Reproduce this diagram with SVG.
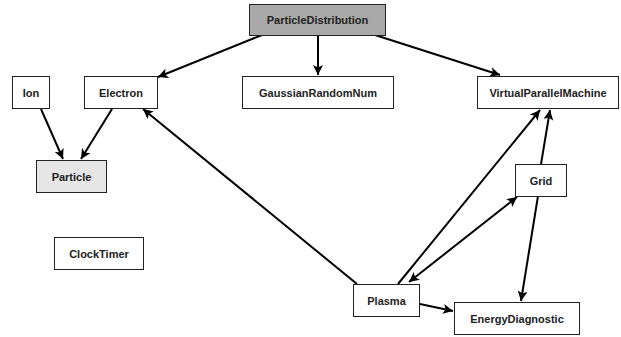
<svg xmlns="http://www.w3.org/2000/svg" width="621" height="337" viewBox="0 0 621 337">
  <style>
    .box { fill: #ffffff; stroke: #222222; stroke-width: 1; }
    .root { fill: #a9a9a9; }
    .base { fill: #e6e6e6; }
    .lbl { font-family: "Liberation Sans", Arial, sans-serif; font-weight: bold; font-size: 11px; fill: #222222; text-anchor: middle; dominant-baseline: central; }
    .edge { stroke: #000000; stroke-width: 2; fill: none; marker-end: url(#arrow); }
  </style>
  <defs>
    <marker id="arrow" viewBox="0 0 10 10" refX="10" refY="5" markerWidth="5" markerHeight="5" orient="auto" markerUnits="strokeWidth">
      <path d="M0,0 L10,5 L0,10 L2.5,5 z" fill="#000000"/>
    </marker>
    <marker id="arrowStart" viewBox="0 0 10 10" refX="0" refY="5" markerWidth="5" markerHeight="5" orient="auto" markerUnits="strokeWidth">
      <path d="M10,0 L0,5 L10,10 L7.5,5 z" fill="#000000"/>
    </marker>
  </defs>
  <rect width="621" height="337" fill="#ffffff"/>

  <g id="connectors">
    <line class="edge" x1="262" y1="35" x2="158" y2="77"/>
    <line class="edge" x1="318" y1="35" x2="318" y2="75"/>
    <line class="edge" x1="375" y1="35" x2="500" y2="75"/>
    <line class="edge" x1="41" y1="109" x2="63" y2="159"/>
    <line class="edge" x1="112" y1="109" x2="81" y2="159"/>
    <line class="edge" x1="357" y1="284" x2="143" y2="109"/>
    <line class="edge" x1="398" y1="284" x2="540" y2="110"/>
    <line class="edge" x1="409" y1="282" x2="517" y2="197" marker-start="url(#arrowStart)"/>
    <line class="edge" x1="541" y1="164" x2="550" y2="110"/>
    <line class="edge" x1="538" y1="196" x2="521" y2="301"/>
    <line class="edge" x1="420" y1="304" x2="453" y2="311"/>
  </g>

  <g id="ParticleDistribution">
    <rect class="box root" x="249.5" y="4.5" width="136" height="31"/>
    <text class="lbl" x="317.5" y="20">ParticleDistribution</text>
  </g>
  <g id="Ion">
    <rect class="box" x="12.5" y="76.5" width="37" height="32"/>
    <text class="lbl" x="31" y="92.5">Ion</text>
  </g>
  <g id="Electron">
    <rect class="box" x="84.5" y="76.5" width="73" height="32"/>
    <text class="lbl" x="121" y="92.5">Electron</text>
  </g>
  <g id="GaussianRandomNum">
    <rect class="box" x="242.5" y="76.5" width="151" height="32"/>
    <text class="lbl" x="318" y="92.5">GaussianRandomNum</text>
  </g>
  <g id="VirtualParallelMachine">
    <rect class="box" x="477.5" y="76.5" width="141" height="32"/>
    <text class="lbl" x="548" y="92.5">VirtualParallelMachine</text>
  </g>
  <g id="Particle">
    <rect class="box base" x="36.5" y="160.5" width="70" height="32"/>
    <text class="lbl" x="71.5" y="176.5">Particle</text>
  </g>
  <g id="Grid">
    <rect class="box" x="515.5" y="164.5" width="51" height="32"/>
    <text class="lbl" x="541" y="180.5">Grid</text>
  </g>
  <g id="ClockTimer">
    <rect class="box" x="54.5" y="237.5" width="89" height="32"/>
    <text class="lbl" x="99" y="253.5">ClockTimer</text>
  </g>
  <g id="Plasma">
    <rect class="box" x="353.5" y="284.5" width="66" height="32"/>
    <text class="lbl" x="386.5" y="300.5">Plasma</text>
  </g>
  <g id="EnergyDiagnostic">
    <rect class="box" x="454.5" y="302.5" width="125" height="32"/>
    <text class="lbl" x="517" y="318.5">EnergyDiagnostic</text>
  </g>
</svg>
